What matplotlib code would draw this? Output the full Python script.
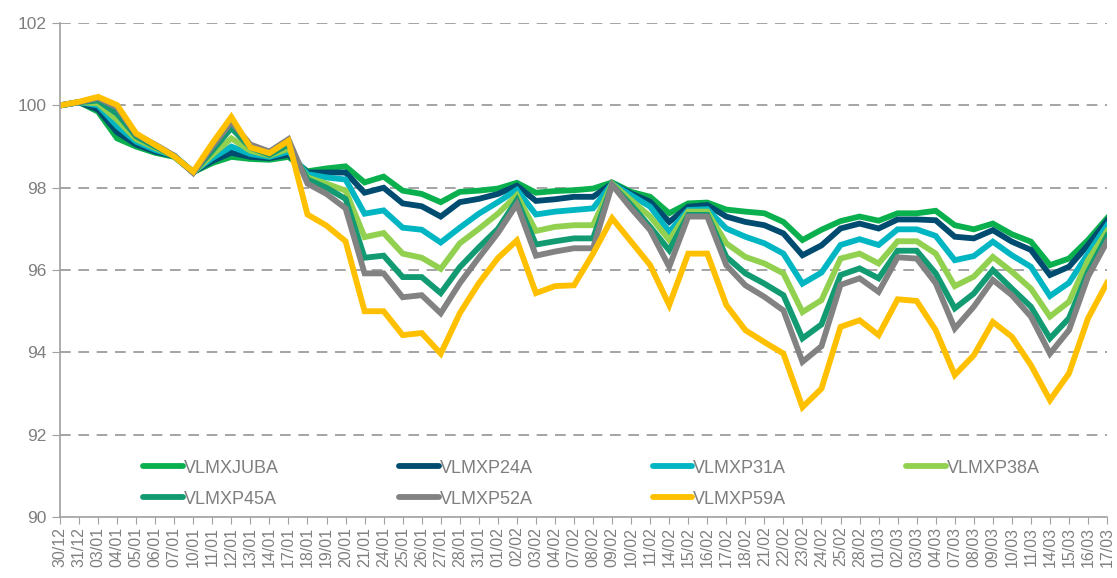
import numpy as np
import matplotlib.pyplot as plt

dates = ['30/12', '31/12', '03/01', '04/01', '05/01', '06/01', '07/01', '10/01', '11/01',
         '12/01', '13/01', '14/01', '17/01', '18/01', '19/01', '20/01', '21/01', '24/01',
         '25/01', '26/01', '27/01', '28/01', '31/01', '01/02', '02/02', '03/02', '04/02',
         '07/02', '08/02', '09/02', '10/02', '11/02', '14/02', '15/02', '16/02', '17/02',
         '18/02', '21/02', '22/02', '23/02', '24/02', '25/02', '28/02', '01/03', '02/03',
         '03/03', '04/03', '07/03', '08/03', '09/03', '10/03', '11/03', '14/03', '15/03',
         '16/03', '17/03']

juba = [100.0, 100.08, 99.85, 99.2, 99.0, 98.85, 98.75, 98.38, 98.6, 98.75, 98.7, 98.68,
        98.75, 98.4, 98.47, 98.52, 98.13, 98.27, 97.93, 97.85, 97.65, 97.9, 97.93, 97.98,
        98.12, 97.88, 97.92, 97.94, 97.98, 98.13, 97.9, 97.78, 97.38, 97.62, 97.64, 97.47,
        97.42, 97.38, 97.17, 96.73, 96.98, 97.19, 97.3, 97.2, 97.38, 97.38, 97.44, 97.09,
        96.99, 97.13, 96.87, 96.69, 96.12, 96.28, 96.73, 97.26]
p24a = [100.0, 100.08, 99.9, 99.35, 99.05, 98.88, 98.77, 98.38, 98.65, 98.85, 98.75, 98.72,
        98.8, 98.37, 98.37, 98.37, 97.88, 98.0, 97.62, 97.55, 97.3, 97.65, 97.73, 97.85,
        98.05, 97.68, 97.72, 97.78, 97.78, 98.1, 97.86, 97.66, 97.17, 97.54, 97.58, 97.3,
        97.17, 97.09, 96.89, 96.36, 96.6, 97.01, 97.13, 97.01, 97.23, 97.23, 97.21, 96.81,
        96.77, 96.97, 96.69, 96.49, 95.88, 96.08, 96.61, 97.2]
p31a = [100.0, 100.08, 100.0, 99.5, 99.12, 98.92, 98.78, 98.38, 98.72, 99.0, 98.82, 98.75,
        98.88, 98.33, 98.25, 98.2, 97.37, 97.45, 97.03, 96.98, 96.67, 97.03, 97.37, 97.65,
        97.95, 97.35, 97.42, 97.46, 97.5, 98.1, 97.82, 97.54, 96.93, 97.46, 97.48, 97.01,
        96.81, 96.65, 96.4, 95.67, 95.94, 96.61, 96.75, 96.61, 96.99, 96.99, 96.83, 96.24,
        96.34, 96.69, 96.36, 96.08, 95.37, 95.69, 96.4, 97.09]
p38a = [100.0, 100.08, 100.05, 99.65, 99.18, 98.97, 98.77, 98.37, 98.8, 99.2, 98.9, 98.78,
        98.95, 98.25, 98.1, 97.93, 96.8, 96.9, 96.4, 96.3, 96.03, 96.65, 97.0, 97.37,
        97.82, 96.95, 97.05, 97.09, 97.09, 98.1, 97.7, 97.3, 96.73, 97.42, 97.42, 96.65,
        96.32, 96.16, 95.92, 94.98, 95.27, 96.28, 96.4, 96.16, 96.7, 96.7, 96.4, 95.61,
        95.84, 96.32, 95.96, 95.55, 94.87, 95.23, 96.24, 96.95]
p45a = [100.0, 100.08, 100.12, 99.8, 99.25, 99.0, 98.77, 98.37, 98.9, 99.45, 98.98, 98.8,
        99.05, 98.2, 98.0, 97.73, 96.3, 96.35, 95.83, 95.83, 95.44, 96.07, 96.55, 97.0,
        97.7, 96.62, 96.7, 96.77, 96.77, 98.07, 97.58, 97.05, 96.48, 97.34, 97.34, 96.32,
        95.92, 95.67, 95.39, 94.34, 94.68, 95.88, 96.04, 95.8, 96.47, 96.47, 95.92, 95.07,
        95.43, 96.0, 95.55, 95.11, 94.34, 94.83, 95.96, 96.83]
p52a = [100.0, 100.08, 100.18, 99.95, 99.3, 99.05, 98.78, 98.36, 99.0, 99.6, 99.05, 98.88,
        99.18, 98.1, 97.85, 97.5, 95.92, 95.92, 95.34, 95.39, 94.95, 95.68, 96.3, 96.9,
        97.6, 96.35, 96.45, 96.53, 96.53, 98.07, 97.5, 96.97, 96.08, 97.3, 97.3, 96.12,
        95.63, 95.35, 95.02, 93.77, 94.15, 95.64, 95.8, 95.47, 96.31, 96.28, 95.68, 94.58,
        95.11, 95.76, 95.39, 94.87, 93.97, 94.54, 95.84, 96.69]
p59a = [100.0, 100.09, 100.21, 100.01, 99.32, 99.04, 98.76, 98.39, 99.08, 99.72, 98.98, 98.84,
        99.14, 97.35, 97.08, 96.7, 95.0, 95.0, 94.42, 94.47, 93.97, 94.95, 95.68, 96.29,
        96.72, 95.44, 95.61, 95.63, 96.4, 97.26, 96.69, 96.12, 95.15, 96.4, 96.4, 95.15,
        94.54, 94.25, 93.97, 92.67, 93.12, 94.62, 94.78, 94.42, 95.29, 95.25, 94.54, 93.45,
        93.93, 94.74, 94.38, 93.69, 92.84, 93.49, 94.83, 95.69]

names = ['VLMXJUBA', 'VLMXP24A', 'VLMXP31A', 'VLMXP38A', 'VLMXP45A', 'VLMXP52A', 'VLMXP59A']
series = [juba, p24a, p31a, p38a, p45a, p52a, p59a]
colors = ['#0BB04E', '#004C70', '#00B6C2', '#92D050', '#129B72', '#828282', '#FFC000']

plt.rcParams['font.family'] = ['Liberation Sans', 'DejaVu Sans']
txt_color = '#7f7f7f'

fig = plt.figure(figsize=(11.17, 5.78), dpi=100)
ax = fig.add_axes([0.0537, 0.1055, 0.9374, 0.8545])

x = np.arange(len(dates))
lines = []
for name, vals, col in zip(names, series, colors):
    ln, = ax.plot(x, vals, color=col, lw=4.2, solid_joinstyle='miter', label=name)
    lines.append(ln)

ax.set_xlim(0, len(dates) - 1)
ax.set_ylim(90, 102)
ax.set_yticks(np.arange(90, 103, 2))
ax.set_xticks(x)
ax.set_xticklabels(dates, rotation=90, fontsize=11.5, color=txt_color)
ax.tick_params(axis='y', labelsize=12.5, labelcolor=txt_color, color='#a0a0a0', length=6)
ax.tick_params(axis='x', color='#a0a0a0', length=5, pad=2)

for v in np.arange(92, 103, 2):
    ax.axhline(v, color='#8c8c8c', lw=1.1, ls=(0, (7, 5)), zorder=0)

for side in ['top', 'right']:
    ax.spines[side].set_visible(False)
for side in ['left', 'bottom']:
    ax.spines[side].set_color('#a0a0a0')
    ax.spines[side].set_linewidth(1.2)

# legend: two rows, filled row-wise
order = [0, 4, 1, 5, 2, 6, 3]
leg = ax.legend([lines[i] for i in order], [names[i] for i in order], ncol=4,
                loc='lower left', bbox_to_anchor=(0.064, -0.014), frameon=False,
                fontsize=13, handlelength=2.2, handletextpad=0.05,
                columnspacing=6.65, labelspacing=0.78)
for t in leg.get_texts():
    t.set_color(txt_color)
for h in leg.legend_handles:
    h.set_solid_capstyle('round')

fig.savefig('out.png', dpi=100)
